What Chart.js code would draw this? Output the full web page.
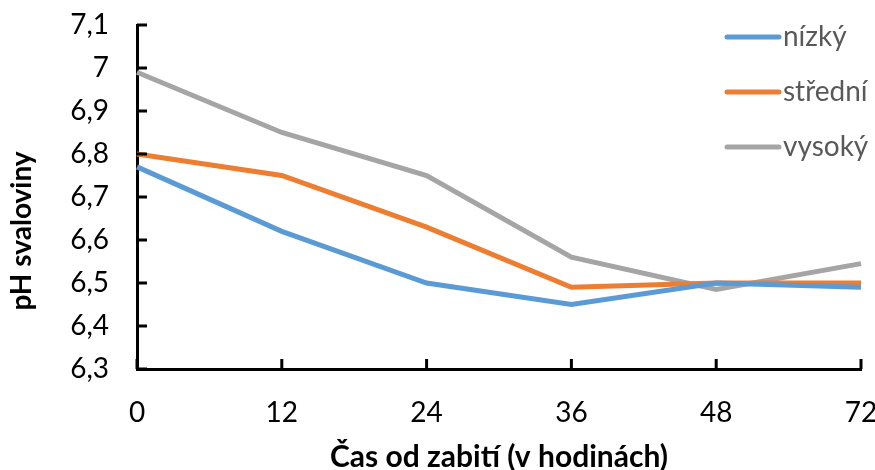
<!DOCTYPE html>
<html>
<head>
<meta charset="utf-8">
<script src="https://cdn.jsdelivr.net/npm/chart.js@4.4.1/dist/chart.umd.min.js"></script>
<style>
  html, body { margin: 0; padding: 0; background: #ffffff; }
  #wrap { width: 875px; height: 470px; }
</style>
</head>
<body>
<div id="wrap"><canvas id="chart" width="875" height="470"></canvas></div>
<script>
// Time since slaughter (hours) and muscle pH per group
const hours = ['0', '12', '24', '36', '48', '72'];
const nizky = [6.77, 6.62, 6.50, 6.45, 6.50, 6.49];
const stredni = [6.80, 6.75, 6.63, 6.49, 6.50, 6.50];
const vysoky = [6.99, 6.85, 6.75, 6.56, 6.485, 6.545];
const seriesNames = ['nízký', 'střední', 'vysoký'];
const seriesColors = ['#5B9BD5', '#ED7D31', '#A5A5A5'];
const yMin = 6.3, yMax = 7.1, yStep = 0.1;

const FONT = 'Lato, "Open Sans", sans-serif';

function fmtComma(v) {
  const r = Math.round(v * 10) / 10;
  return String(r).replace('.', ',');
}

// Short tick marks pointing into the plot area
const innerTicks = {
  id: 'innerTicks',
  afterDraw(chart) {
    const { ctx, chartArea, scales } = chart;
    ctx.save();
    ctx.strokeStyle = '#000';
    ctx.lineWidth = 3;
    const ys = scales.y;
    ys.ticks.forEach((t, i) => {
      const y = ys.getPixelForTick(i);
      ctx.beginPath();
      ctx.moveTo(chartArea.left, y);
      ctx.lineTo(chartArea.left + 10, y);
      ctx.stroke();
    });
    const xs = scales.x;
    xs.ticks.forEach((t, i) => {
      const x = xs.getPixelForTick(i);
      ctx.beginPath();
      ctx.moveTo(x, chartArea.bottom);
      ctx.lineTo(x, chartArea.bottom - 10);
      ctx.stroke();
    });
    ctx.restore();
  }
};

// Legend drawn inside the upper-right corner of the plot, one row per series
const lineLegend = {
  id: 'lineLegend',
  afterDraw(chart) {
    const { ctx } = chart;
    ctx.save();
    ctx.font = '28px ' + FONT;
    ctx.textBaseline = 'middle';
    ctx.textAlign = 'left';
    chart.data.datasets.forEach((ds, i) => {
      const y = 37 + i * 55;
      ctx.strokeStyle = ds.borderColor;
      ctx.lineWidth = 5;
      ctx.lineCap = 'round';
      ctx.beginPath();
      ctx.moveTo(727, y);
      ctx.lineTo(779, y);
      ctx.stroke();
      ctx.fillStyle = '#595959';
      ctx.fillText(ds.label, 783, y);
    });
    ctx.restore();
  }
};

// Rotated y-axis title
const yTitle = {
  id: 'yTitle',
  afterDraw(chart) {
    const { ctx } = chart;
    ctx.save();
    ctx.translate(22, 231);
    ctx.rotate(-Math.PI / 2);
    ctx.font = 'bold 28px ' + FONT;
    ctx.fillStyle = '#000';
    ctx.textAlign = 'center';
    ctx.textBaseline = 'middle';
    ctx.fillText('pH svaloviny', 0, 0);
    ctx.restore();
  }
};

const datasets = [nizky, stredni, vysoky].map((vals, i) => ({
  label: seriesNames[i],
  data: vals,
  borderColor: seriesColors[i],
  backgroundColor: seriesColors[i],
  borderWidth: 5,
  pointRadius: 0,
  pointHoverRadius: 0,
  tension: 0,
  fill: false,
  clip: 10
}));

function zeroPad(scale) {
  scale.paddingLeft = 0;
  scale.paddingRight = 0;
  scale.paddingTop = 0;
  scale.paddingBottom = 0;
}

new Chart(document.getElementById('chart'), {
  type: 'line',
  data: { labels: hours, datasets },
  options: {
    responsive: false,
    animation: false,
    events: [],
    layout: { padding: { left: 6, right: 14, top: 25, bottom: 0 } },
    plugins: {
      legend: { display: false },
      tooltip: { enabled: false }
    },
    scales: {
      x: {
        type: 'category',
        offset: false,
        grid: { display: false, drawTicks: false },
        border: { display: true, color: '#000', width: 3 },
        ticks: {
          color: '#000',
          font: { family: FONT, size: 28 },
          padding: 27,
          maxRotation: 0,
          autoSkip: false
        },
        title: {
          display: true,
          text: 'Čas od zabití (v hodinách)',
          color: '#000',
          font: { family: FONT, size: 30, weight: 'bold' },
          padding: { top: 0, bottom: -5 }
        },
        afterFit(scale) { scale.height = 101; zeroPad(scale); }
      },
      y: {
        min: yMin,
        max: yMax,
        grid: { display: false, drawTicks: false },
        border: { display: true, color: '#000', width: 3 },
        ticks: {
          stepSize: yStep,
          color: '#000',
          font: { family: FONT, size: 28 },
          padding: 28,
          callback: (v) => fmtComma(v)
        },
        afterFit(scale) { scale.width = 131; zeroPad(scale); }
      }
    }
  },
  plugins: [innerTicks, lineLegend, yTitle]
});
</script>
</body>
</html>
